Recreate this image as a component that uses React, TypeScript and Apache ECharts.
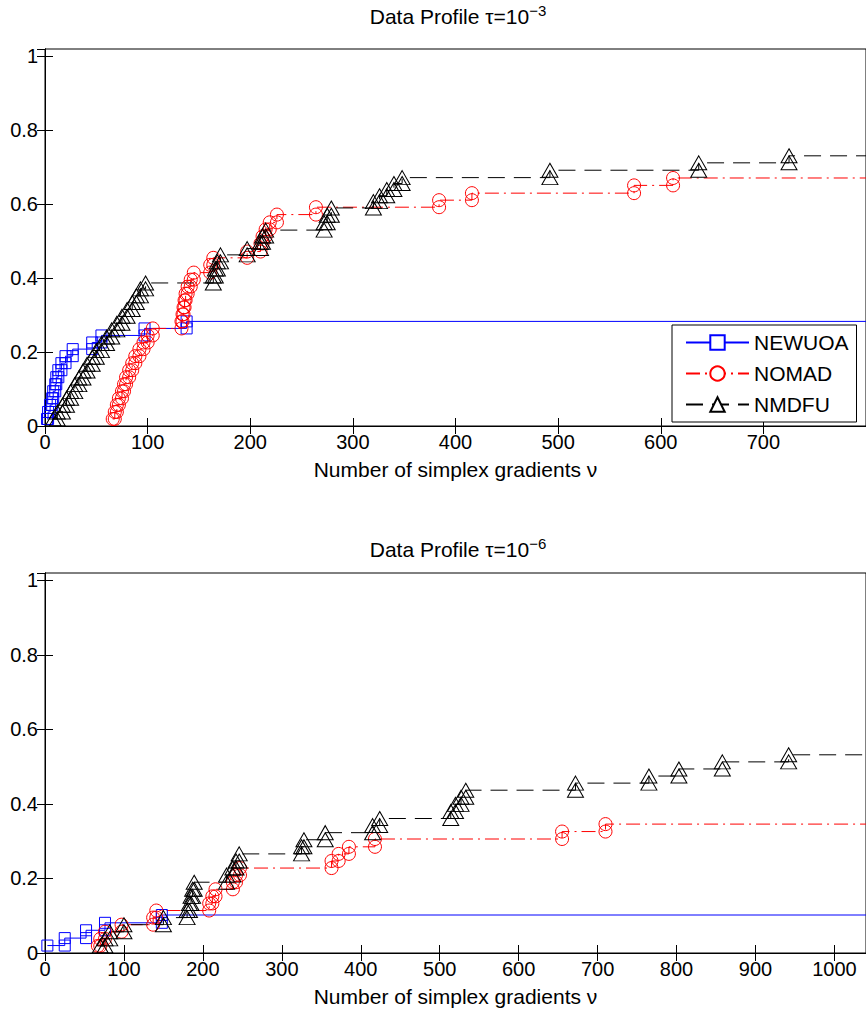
import React, { useEffect, useRef } from "react";
import * as echarts from "echarts";

const FONT = "'Liberation Sans', Arial, Helvetica, sans-serif";

const seriesNames = ["NEWUOA", "NOMAD", "NMDFU"];
const xMaxTop = 800;
const xMaxBottom = 1040;

// ---- Top panel: tau = 1e-3 ----
const topNewuoaX = [2, 3, 5, 7, 8, 10, 11, 13, 16, 20, 27, 46, 55, 97, 138];
const topNewuoaY = [0.019, 0.038, 0.057, 0.075, 0.094, 0.113, 0.132, 0.151, 0.17, 0.189, 0.208, 0.226, 0.245, 0.264, 0.283];

const topNomadX = [66, 68, 70, 72, 75, 77, 79, 82, 85, 88, 92, 96, 100, 105, 133, 134, 135, 136, 137, 139, 142, 145, 161, 164, 197, 210, 212, 215, 219, 226, 264, 384, 416, 574, 612];
const topNomadY = [0.019, 0.038, 0.057, 0.075, 0.094, 0.113, 0.132, 0.151, 0.17, 0.189, 0.208, 0.226, 0.245, 0.264, 0.283, 0.302, 0.321, 0.34, 0.358, 0.377, 0.396, 0.415, 0.436, 0.455, 0.472, 0.494, 0.513, 0.532, 0.551, 0.572, 0.592, 0.611, 0.63, 0.651, 0.671];

const topNmdfuX = [8, 12, 17, 21, 25, 29, 33, 37, 41, 46, 50, 55, 60, 65, 70, 75, 80, 85, 89, 93, 98, 164, 166, 168, 171, 197, 210, 212, 215, 272, 275, 279, 320, 326, 333, 340, 348, 492, 637, 725];
const topNmdfuY = [0.019, 0.038, 0.056, 0.075, 0.093, 0.112, 0.13, 0.149, 0.167, 0.186, 0.204, 0.223, 0.241, 0.26, 0.278, 0.297, 0.315, 0.334, 0.352, 0.371, 0.387, 0.406, 0.425, 0.444, 0.463, 0.48, 0.497, 0.514, 0.53, 0.55, 0.57, 0.59, 0.607, 0.623, 0.64, 0.656, 0.672, 0.692, 0.712, 0.731];

// ---- Bottom panel: tau = 1e-6 ----
const botNewuoaX = [3, 25, 52, 76, 148];
const botNewuoaY = [0.02, 0.04, 0.061, 0.081, 0.102];

const botNomadX = [67, 70, 76, 97, 137, 141, 208, 212, 216, 238, 242, 247, 363, 372, 385, 418, 655, 710];
const botNomadY = [0.019, 0.038, 0.057, 0.076, 0.095, 0.114, 0.133, 0.152, 0.171, 0.19, 0.209, 0.228, 0.247, 0.266, 0.285, 0.306, 0.326, 0.346];

const botNmdfuX = [70, 76, 82, 100, 150, 180, 183, 185, 187, 189, 230, 238, 242, 246, 325, 328, 355, 415, 424, 514, 520, 527, 533, 672, 765, 803, 858, 942];
const botNmdfuY = [0.019, 0.038, 0.057, 0.076, 0.095, 0.114, 0.133, 0.152, 0.171, 0.19, 0.209, 0.228, 0.247, 0.266, 0.285, 0.304, 0.323, 0.342, 0.361, 0.38, 0.399, 0.418, 0.437, 0.456, 0.475, 0.494, 0.513, 0.532];

const styles: Record<string, any> = {
  NEWUOA: { color: "#0000ff", type: "solid", symbol: "rect", symbolSize: 11 },
  NOMAD: { color: "#ff0000", type: [14, 5, 2, 5], symbol: "circle", symbolSize: 13 },
  NMDFU: { color: "#000000", type: [17, 9], symbol: "triangle", symbolSize: [16, 14] },
};

function stairs(xs: number[], ys: number[], xEnd: number) {
  const pts: any[] = [];
  xs.forEach((x, i) => {
    if (i > 0) pts.push([x, ys[i - 1]]);
    pts.push([x, ys[i]]);
  });
  pts.push({ value: [xEnd, ys[ys.length - 1]], symbol: "none" });
  return pts;
}

function makeSeries(name: string, xs: number[], ys: number[], xEnd: number, axisIdx: number) {
  const s = styles[name];
  return {
    type: "line",
    name,
    xAxisIndex: axisIdx,
    yAxisIndex: axisIdx,
    data: stairs(xs, ys, xEnd),
    symbol: s.symbol,
    symbolSize: s.symbolSize,
    showSymbol: true,
    showAllSymbol: true,
    lineStyle: { color: s.color, width: 1, type: s.type },
    itemStyle: { color: "rgba(0,0,0,0)", borderColor: s.color, borderWidth: 1 },
    emphasis: { disabled: true },
    silent: true,
  };
}

const tickStyle = { inside: true, length: 8, lineStyle: { color: "#000", width: 1 } };
const lineStyleAxis = { show: true, lineStyle: { color: "#000", width: 1 } };
const plainLabel = (v: number) => String(Math.round(v * 1000) / 1000);

function xAxes(gridIndex: number, max: number) {
  return [
    {
      type: "value",
      gridIndex,
      min: 0,
      max,
      interval: 100,
      position: "bottom",
      axisLine: lineStyleAxis,
      axisTick: tickStyle,
      splitLine: { show: false },
      axisLabel: { fontSize: 20, fontFamily: FONT, color: "#000", margin: 6, showMaxLabel: false, formatter: plainLabel },
      name: "Number of simplex gradients ν",
      nameLocation: "middle",
      nameGap: 33,
      nameTextStyle: { fontSize: 21, fontFamily: FONT, color: "#000" },
    },
    {
      type: "value",
      gridIndex,
      min: 0,
      max,
      interval: 100,
      position: "top",
      axisLine: lineStyleAxis,
      axisTick: tickStyle,
      splitLine: { show: false },
      axisLabel: { show: false },
    },
  ];
}

function yAxes(gridIndex: number) {
  return [
    {
      type: "value",
      gridIndex,
      min: 0,
      max: 1.02,
      interval: 0.2,
      position: "left",
      axisLine: lineStyleAxis,
      axisTick: tickStyle,
      splitLine: { show: false },
      axisLabel: { fontSize: 20, fontFamily: FONT, color: "#000", margin: 7, showMaxLabel: false, formatter: plainLabel },
    },
    {
      type: "value",
      gridIndex,
      min: 0,
      max: 1.02,
      interval: 0.2,
      position: "right",
      axisLine: lineStyleAxis,
      axisTick: tickStyle,
      splitLine: { show: false },
      axisLabel: { show: false },
    },
  ];
}

function titleText(exp: string) {
  return `{a|Data Profile τ=10}{b|${exp}}`;
}

const titleRich = {
  a: { fontSize: 21, fontFamily: FONT, fontWeight: "normal", color: "#000", lineHeight: 26 },
  b: { fontSize: 15, fontFamily: FONT, fontWeight: "normal", color: "#000", verticalAlign: "top", lineHeight: 15 },
};

export default function App() {
  const ref = useRef<HTMLDivElement>(null);
  useEffect(() => {
    if (!ref.current) return;
    const chart = echarts.init(ref.current, undefined, { renderer: "svg" });
    const xa = [...xAxes(0, xMaxTop), ...xAxes(1, xMaxBottom)];
    const ya = [...yAxes(0), ...yAxes(1)];
    chart.setOption({
      animation: false,
      backgroundColor: "#fff",
      title: [
        { text: titleText("−3"), left: 458, top: 3, textAlign: "center", padding: 0, textStyle: { fontWeight: "normal", rich: titleRich } },
        { text: titleText("−6"), left: 458, top: 536, textAlign: "center", padding: 0, textStyle: { fontWeight: "normal", rich: titleRich } },
      ],
      legend: {
        show: true,
        orient: "vertical",
        left: 672,
        top: 325,
        padding: [7, 8, 7, 13],
        itemGap: 10,
        itemWidth: 63,
        itemHeight: 18,
        backgroundColor: "#fff",
        borderColor: "#000",
        borderWidth: 1,
        borderRadius: 0,
        selectedMode: false,
        itemStyle: { color: "#fff" },
        textStyle: { fontSize: 21, fontFamily: FONT, color: "#000" },
        data: seriesNames,
      },
      grid: [
        { left: 45, top: 49, width: 826, height: 377, show: true, borderColor: "#000", borderWidth: 1, containLabel: false },
        { left: 45, top: 573, width: 826, height: 380, show: true, borderColor: "#000", borderWidth: 1, containLabel: false },
      ],
      xAxis: xa,
      yAxis: ya,
      series: [
        makeSeries("NEWUOA", topNewuoaX, topNewuoaY, xMaxTop, 0),
        makeSeries("NOMAD", topNomadX, topNomadY, xMaxTop, 0),
        makeSeries("NMDFU", topNmdfuX, topNmdfuY, xMaxTop, 0),
        makeSeries("NEWUOA", botNewuoaX, botNewuoaY, xMaxBottom, 2),
        makeSeries("NOMAD", botNomadX, botNomadY, xMaxBottom, 2),
        makeSeries("NMDFU", botNmdfuX, botNmdfuY, xMaxBottom, 2),
      ],
    });
    return () => chart.dispose();
  }, []);
  return <div ref={ref} style={{ position: "absolute", left: 0, top: 0, width: 866, height: 1009 }} />;
}
